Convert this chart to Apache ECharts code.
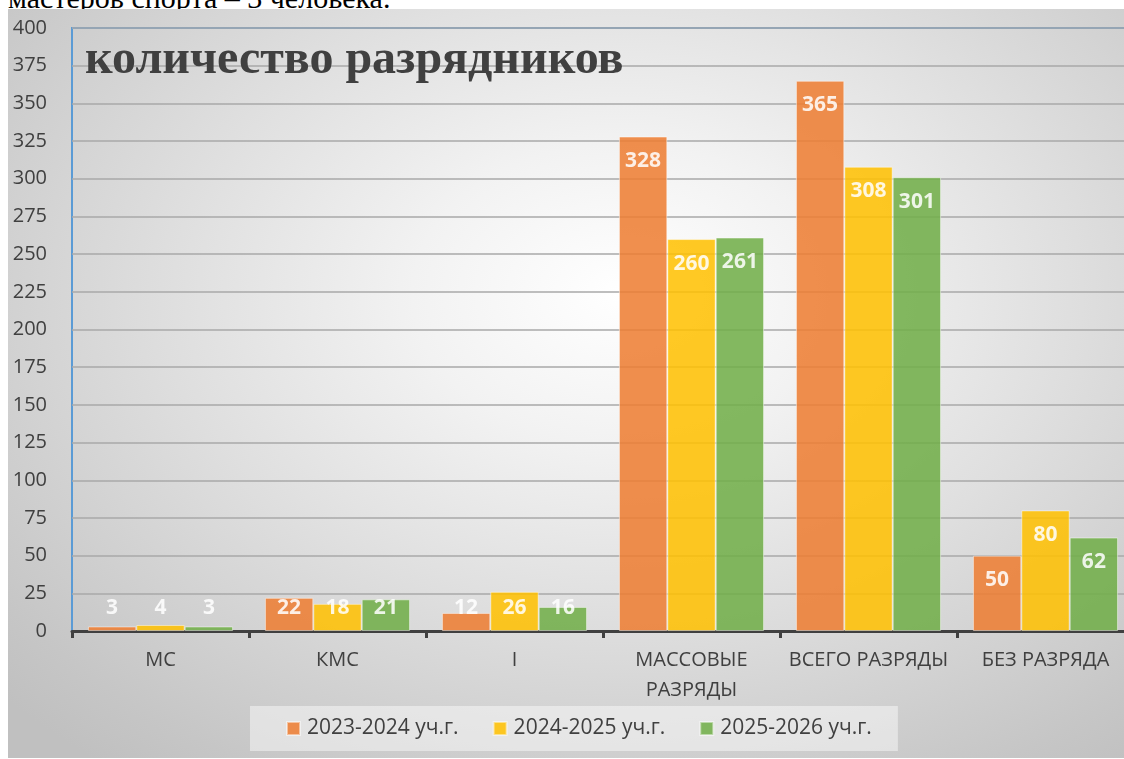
<!DOCTYPE html>
<html>
<head>
<meta charset="utf-8">
<script src="https://cdn.jsdelivr.net/npm/echarts@6/dist/echarts.min.js"></script>
<style>
html,body{margin:0;padding:0;background:#fff;width:1124px;height:759px;overflow:hidden;}
#above{position:absolute;left:8px;top:-17px;font-family:"Liberation Serif","DejaVu Serif",serif;font-size:30px;line-height:1;color:#000;white-space:nowrap;}
#chart{position:absolute;left:8px;top:9px;width:1116px;height:749px;
background:radial-gradient(ellipse 75% 80% at 55% 38%, #ffffff 0%, #f2f2f2 25%, #dedede 55%, #c6c6c6 90%, #c0c0c0 100%);}
</style>
</head>
<body>
<div id="above">мастеров спорта – 3 человека.</div>
<div id="chart"></div>
<script>
const categories = ['МС', 'КМС', 'I', 'МАССОВЫЕ РАЗРЯДЫ', 'ВСЕГО РАЗРЯДЫ', 'БЕЗ РАЗРЯДА'];
const seriesNames = ['2023-2024 уч.г.', '2024-2025 уч.г.', '2025-2026 уч.г.'];
const values2023 = [3, 22, 12, 328, 365, 50];
const values2024 = [4, 18, 26, 260, 308, 80];
const values2025 = [3, 21, 16, 261, 301, 62];
const yTicks = {min: 0, max: 400, interval: 25};
const chartTitle = 'количество разрядников';

const colors = ['#ED7D31', '#FFC000', '#70AD47'];
const font = '"Open Sans", "Noto Sans", sans-serif';

function makeData(arr) {
  return arr.map(v => ({
    value: v,
    label: v < 30 ? {position: 'insideBottom', distance: 12} : {position: 'insideTop', distance: 14}
  }));
}

const chart = echarts.init(document.getElementById('chart'), null, {renderer: 'canvas'});
const allValues = [values2023, values2024, values2025];

chart.setOption({
  backgroundColor: 'transparent',
  animation: false,
  grid: {
    left: 64, top: 19, right: -10, bottom: 127,
    outerBoundsMode: 'none', containLabel: false,
    show: true, borderColor: '#5b9bd5', borderWidth: 2, backgroundColor: 'transparent'
  },
  graphic: [{
    type: 'text',
    left: 77, top: 28,
    z: 10,
    style: {
      text: chartTitle,
      font: 'bold 48px "Liberation Serif", "DejaVu Serif", serif',
      fill: '#404040'
    }
  }],
  legend: {
    data: seriesNames,
    left: 242, top: 697,
    padding: [12, 26, 12, 36],
    backgroundColor: 'rgba(255,255,255,0.45)',
    itemWidth: 13, itemHeight: 13, itemGap: 34,
    icon: 'rect',
    textStyle: {fontFamily: font, fontSize: 21, color: '#404040', padding: [0, 0, 0, 2]}
  },
  xAxis: {
    type: 'category',
    data: categories,
    axisLine: {show: true, lineStyle: {color: '#404040', width: 3}},
    axisTick: {show: true, length: 7, lineStyle: {color: '#404040', width: 3}},
    axisLabel: {
      color: '#404040', fontFamily: font, fontSize: 20, margin: 14, lineHeight: 30,
      interval: 0, hideOverlap: false,
      formatter: name => name.length > 14 ? name.replace(' ', '\n') : name
    },
    splitLine: {show: false}
  },
  yAxis: {
    type: 'value',
    min: yTicks.min, max: yTicks.max, interval: yTicks.interval,
    axisLine: {show: false},
    axisTick: {show: false},
    axisLabel: {color: '#404040', fontFamily: font, fontSize: 20, margin: 25},
    splitLine: {show: true, lineStyle: {color: '#a8a8a8', width: 1.5}}
  },
  series: seriesNames.map((name, i) => ({
    type: 'bar',
    name: name,
    data: makeData(allValues[i]),
    barGap: '0%',
    barCategoryGap: '18%',
    itemStyle: {color: colors[i], opacity: 0.86, borderColor: 'rgba(255,255,255,0.55)', borderWidth: 1},
    label: {show: true, color: '#ffffff', fontFamily: font, fontWeight: 'bold', fontSize: 21}
  }))
});
</script>
</body>
</html>
